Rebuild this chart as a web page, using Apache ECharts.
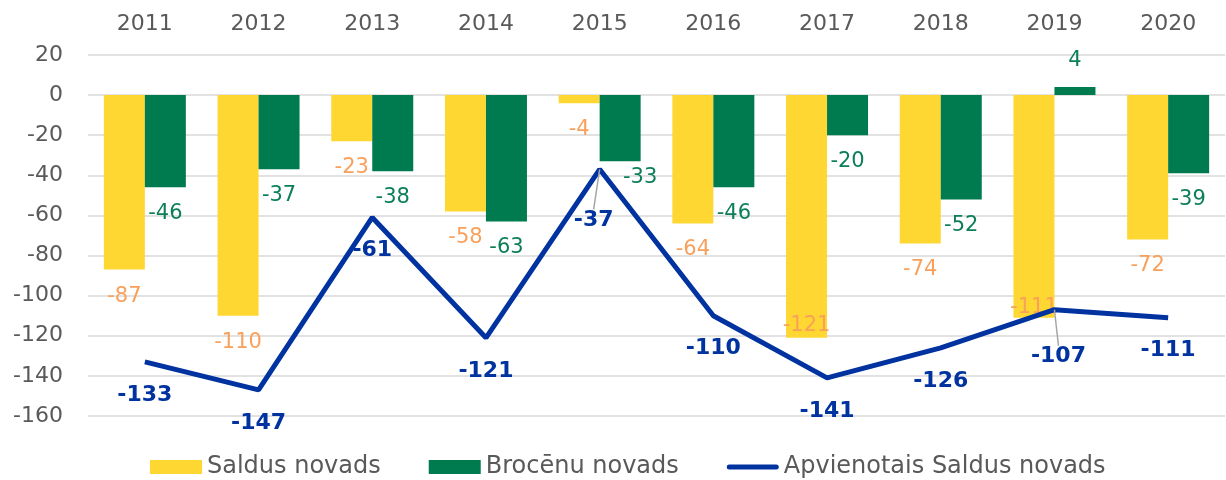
<!DOCTYPE html>
<html>
<head>
<meta charset="utf-8">
<script src="https://cdn.jsdelivr.net/npm/echarts@6/dist/echarts.min.js"></script>
<style>
  html, body { margin: 0; padding: 0; background: #fff; }
  #chart { width: 1226px; height: 480px; }
</style>
</head>
<body>
<div id="chart"></div>
<script>
const years = ['2011', '2012', '2013', '2014', '2015', '2016', '2017', '2018', '2019', '2020']
const saldus = [-87, -110, -23, -58, -4, -64, -121, -74, -111, -72]
const brocenu = [-46, -37, -38, -63, -33, -46, -20, -52, 4, -39]
const apvienotais = [-133, -147, -61, -121, -37, -110, -141, -126, -107, -111]

// hand moved labels, like in the original sheet
const saldusNudge = { 6: [0, -39], 8: [0, -37] }
const brocenuNudge = { 4: [20, -10] }
const lineNudge = { 4: [-6, 18], 8: [4, 14] }

const font = "'DejaVu Sans', Verdana, sans-serif"

function nudge(map) {
  return function (params) {
    const d = map[params.dataIndex]
    return d ? { dx: d[0], dy: d[1] } : {}
  }
}

function barData(values) {
  return values.map(v => ({
    value: v,
    label: { position: v >= 0 ? 'top' : 'bottom' }
  }))
}

// only the moved line labels get a leader line
const lineData = apvienotais.map((v, i) =>
  lineNudge[i] ? { value: v, labelLine: { show: true } } : v
)

const chart = echarts.init(document.getElementById('chart'))

const option = {
  animation: false,
  textStyle: { fontFamily: font },
  grid: { left: 88, right: 1, top: 55, bottom: 64 },
  legend: {
    left: 145,
    bottom: -4,
    itemWidth: 52,
    itemHeight: 14,
    itemGap: 48,
    textStyle: { fontSize: 24, color: '#595959', fontFamily: font },
    data: [
      { name: 'Saldus novads', icon: 'rect' },
      { name: 'Brocēnu novads', icon: 'rect' },
      {
        name: 'Apvienotais Saldus novads',
        icon: 'path://M0,0 M52,14 M2.5,4.5 L49.5,4.5 Q52,4.5 52,7 Q52,9.5 49.5,9.5 L2.5,9.5 Q0,9.5 0,7 Q0,4.5 2.5,4.5 Z',
        itemStyle: { color: '#0033A0' }
      }
    ]
  },
  xAxis: {
    type: 'category',
    position: 'top',
    data: years,
    axisLine: { show: false },
    axisTick: { show: false },
    axisLabel: { fontSize: 22, color: '#595959', margin: 20, fontFamily: font }
  },
  yAxis: {
    type: 'value',
    min: -160,
    max: 20,
    interval: 20,
    axisLabel: { fontSize: 22, color: '#595959', margin: 25, fontFamily: font },
    splitLine: { lineStyle: { color: '#d9d9d9', width: 1.5 } }
  },
  series: [
    {
      name: 'Saldus novads',
      type: 'bar',
      data: barData(saldus),
      barWidth: 41,
      barGap: '0%',
      itemStyle: { color: '#FFD732' },
      label: { show: true, distance: 16, fontSize: 21, color: '#F9A05B', fontFamily: font },
      labelLayout: nudge(saldusNudge)
    },
    {
      name: 'Brocēnu novads',
      type: 'bar',
      data: barData(brocenu),
      barWidth: 41,
      barGap: '0%',
      itemStyle: { color: '#007A4F' },
      label: { show: true, distance: 16, fontSize: 21, color: '#0B7F55', fontFamily: font },
      labelLayout: nudge(brocenuNudge)
    },
    {
      name: 'Apvienotais Saldus novads',
      type: 'line',
      data: lineData,
      symbol: 'circle',
      symbolSize: 0.1,
      showSymbol: true,
      z: 5,
      lineStyle: { color: '#0033A0', width: 5 },
      itemStyle: { color: '#0033A0' },
      label: {
        show: true,
        position: 'bottom',
        distance: 22,
        fontSize: 22,
        fontWeight: 'bold',
        color: '#0033A0',
        fontFamily: font
      },
      labelLine: { show: false, lineStyle: { color: '#a6a6a6', width: 1.5 } },
      labelLayout: nudge(lineNudge)
    }
  ]
}

chart.setOption(option)
</script>
</body>
</html>
